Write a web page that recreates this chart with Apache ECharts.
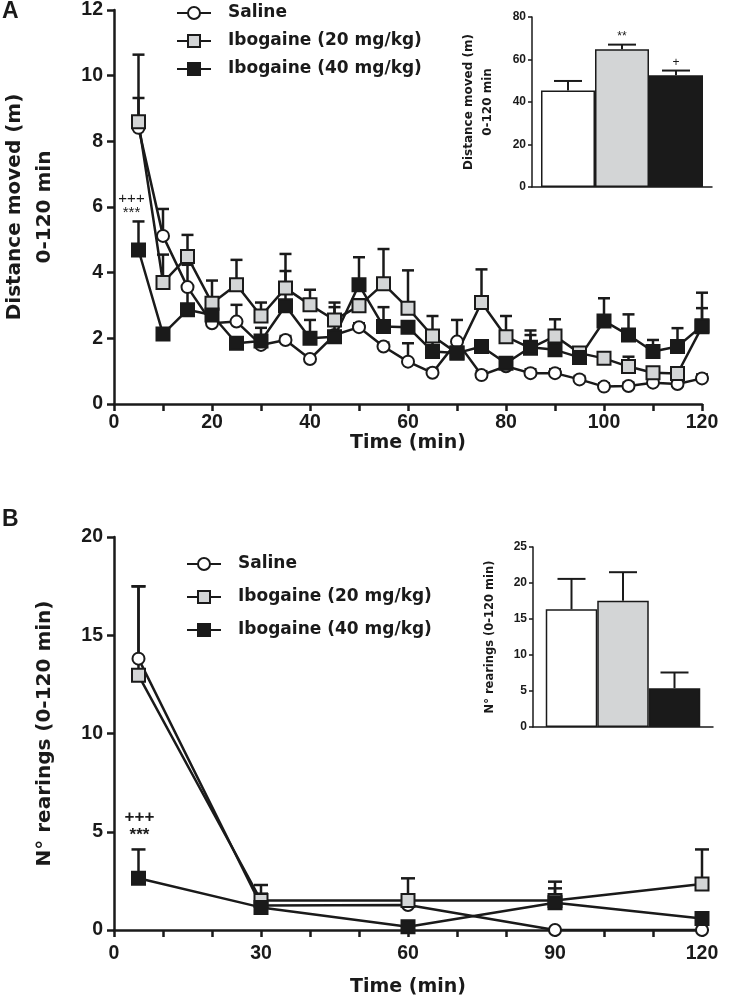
<!DOCTYPE html>
<html><head><meta charset="utf-8">
<script src="https://cdn.jsdelivr.net/npm/echarts@6/dist/echarts.min.js"></script>
<style>html,body{margin:0;padding:0;background:#fff}#c{width:729px;height:1002px}</style>
</head><body><div id="c"></div>
<script>
// ---------- DATA ----------
const seriesNames = ['Saline', 'Ibogaine (20 mg/kg)', 'Ibogaine (40 mg/kg)'];
// Panel A: distance moved per 5-min bin (m)
const timeA = [5,10,15,20,25,30,35,40,45,50,55,60,65,70,75,80,85,90,95,100,105,110,115,120];
const salineA = [8.41,5.12,3.56,2.46,2.51,1.80,1.95,1.37,2.10,2.34,1.75,1.29,0.95,1.90,0.88,1.15,0.94,0.94,0.75,0.53,0.55,0.65,0.61,0.78];
const salineASem = [0.91,0.82,0.68,0.12,0.51,0.12,0.12,0.12,0.12,0.12,0.12,0.56,0.12,0.66,0.12,0.12,0.12,0.12,0.10,0.10,0.10,0.10,0.10,0.12];
const ibo20A = [8.60,3.70,4.49,3.07,3.63,2.68,3.53,3.02,2.56,2.99,3.66,2.92,2.07,1.55,3.09,2.05,1.70,2.07,1.55,1.39,1.14,0.95,0.93,2.35];
const ibo20ASem = [2.04,0.85,0.66,0.69,0.76,0.41,1.04,0.46,0.53,0.20,1.06,1.15,0.61,0.15,1.01,0.63,0.40,0.51,0.15,0.12,0.30,0.12,0.12,1.04];
const ibo40A = [4.69,2.13,2.87,2.71,1.85,1.92,2.99,2.00,2.05,3.63,2.36,2.34,1.60,1.55,1.75,1.24,1.73,1.65,1.42,2.53,2.10,1.60,1.75,2.38];
const ibo40ASem = [0.87,0.12,0.69,0.40,0.12,0.40,1.06,0.56,0.90,0.84,0.59,0.12,0.35,0.15,0.15,0.15,0.51,0.20,0.15,0.69,0.63,0.35,0.56,0.54];
const sigA40 = ['+++\n***','','','','','','','','','','','','','','','','','','','','','','',''];
// Panel A inset: total distance 0-120 min (m)
const totalA = [45.4, 64.8, 52.6];
const totalASem = [4.5, 2.2, 2.2];
const totalASig = ['', '**', '+'];
// Panel B: rearings per 30-min bin
const timeB = [5, 30, 60, 90, 120];
const salineB = [13.81, 1.25, 1.27, 0.0, 0.0];
const salineBSem = [3.68, 0.6, 0.2, 0.0, 0.0];
const ibo20B = [12.96, 1.50, 1.50, 1.50, 2.34];
const ibo20BSem = [4.53, 0.79, 1.13, 0.96, 1.76];
const ibo40B = [2.63, 1.15, 0.17, 1.39, 0.59];
const ibo40BSem = [1.47, 0.15, 0.1, 0.73, 0.1];
const sigB40 = ['+++\n***','','','',''];
// Panel B inset: total rearings 0-120 min
const totalB = [16.35, 17.55, 5.39];
const totalBSem = [4.22, 3.95, 2.18];
const totalBSig = ['', '', ''];
// Axis ticks
const yTicksA = {min:0, max:12, interval:2};
const yTicksB = {min:0, max:20, interval:5};
const insetTicksA = {min:0, max:80, interval:20};
const insetTicksB = {min:0, max:25, interval:5};

// ---------- STYLE ----------
const INK = '#1a1a1a';
const GREY = '#d3d5d6';
const FONT = '"Liberation Sans", Arial, Helvetica, sans-serif';
const WIDE = '"DejaVu Sans", Verdana, sans-serif';
const fills = ['#ffffff', GREY, INK];
const symbols = ['circle', 'rect', 'rect'];

const chart = echarts.init(document.getElementById('c'), null, {renderer: 'canvas'});

function zip(xs, ys) { return xs.map((x, i) => [x, ys[i]]); }

function lineSeries(k, xi, xs, ys, size, z) {
  return {
    name: seriesNames[k], type: 'line', xAxisIndex: xi, yAxisIndex: xi,
    data: zip(xs, ys), symbol: symbols[k], symbolSize: k === 0 ? size - 1 : size,
    showSymbol: true, z: z, animation: false,
    lineStyle: {color: INK, width: 2.5},
    itemStyle: {color: fills[k], borderColor: INK, borderWidth: 2, opacity: 1},
    emphasis: {disabled: true}
  };
}

function errSeries(xi, xs, means, sems, labels, o) {
  const data = xs.map((x, i) => [x, means[i], means[i] + sems[i]]);
  return {
    type: 'custom', xAxisIndex: xi, yAxisIndex: xi, z: o.z || 2, silent: true, animation: false,
    renderItem: function (params, api) {
      const x = api.value(0), m = api.value(1), t = api.value(2);
      const p0 = api.coord([x, m]), p1 = api.coord([x, t]);
      const cx = p0[0] + (o.dx || 0);
      const ch = [
        {type: 'line', shape: {x1: cx, y1: p0[1], x2: cx, y2: p1[1]}, style: {stroke: INK, lineWidth: o.lw}},
        {type: 'line', shape: {x1: cx - o.cap / 2, y1: p1[1], x2: cx + o.cap / 2, y2: p1[1]}, style: {stroke: INK, lineWidth: o.lw}}
      ];
      const lab = labels ? labels[params.dataIndex] : '';
      if (lab) {
        ch.push({type: 'text', x: cx + (o.tdx || 0), y: p1[1] - (o.tgap || 3),
          style: {text: lab, font: o.font, fill: INK, align: 'center', verticalAlign: 'bottom', lineHeight: o.lh}});
      }
      return {type: 'group', children: ch};
    },
    data: data
  };
}

function barSeries(k, xi, vals, bw) {
  return {
    name: 'bar' + xi + '_' + k, type: 'bar', xAxisIndex: xi, yAxisIndex: xi,
    data: [vals[k]], barWidth: bw, barGap: '0%', z: 2, animation: false,
    itemStyle: {color: fills[k], borderColor: INK, borderWidth: 1.5},
    emphasis: {disabled: true}
  };
}

const tickLabel = (size) => ({color: INK, fontFamily: FONT, fontWeight: 'bold', fontSize: size});

function mainX(gi, every, labelMargin, nameGap) {
  return {
    gridIndex: gi, type: 'value', min: 0, max: 120, interval: 10,
    axisLine: {show: true, onZero: false, lineStyle: {color: INK, width: 2.5}},
    axisTick: {show: true, length: 7, lineStyle: {color: INK, width: 2.5}},
    axisLabel: Object.assign(tickLabel(19.5), {margin: labelMargin, formatter: v => (v % every === 0 ? String(v) : '')}),
    splitLine: {show: false},
    name: 'Time (min)', nameLocation: 'middle', nameGap: nameGap,
    nameTextStyle: {color: INK, fontFamily: WIDE, fontWeight: 'bold', fontSize: 19}
  };
}
function mainY(gi, t, name, nameGap, lh) {
  return {
    gridIndex: gi, type: 'value', min: t.min, max: t.max, interval: t.interval,
    axisLine: {show: true, onZero: false, lineStyle: {color: INK, width: 2.5}},
    axisTick: {show: true, length: 7, lineStyle: {color: INK, width: 2.5}},
    axisLabel: Object.assign(tickLabel(19.5), {margin: 11}),
    splitLine: {show: false},
    name: name, nameLocation: 'middle', nameGap: nameGap, nameRotate: 90,
    nameTextStyle: {color: INK, fontFamily: WIDE, fontWeight: 'bold', fontSize: 20, lineHeight: lh}
  };
}
function insetX(gi) {
  return {
    gridIndex: gi, type: 'category', data: ['0-120 min'],
    axisLine: {show: true, onZero: false, lineStyle: {color: INK, width: 1.5}},
    axisTick: {show: false}, axisLabel: {show: false}, splitLine: {show: false}
  };
}
function insetY(gi, t, name, nameGap, fs, lh) {
  return {
    gridIndex: gi, type: 'value', min: t.min, max: t.max, interval: t.interval,
    axisLine: {show: true, onZero: false, lineStyle: {color: INK, width: 1.5}},
    axisTick: {show: true, length: 4, lineStyle: {color: INK, width: 1.5}},
    axisLabel: Object.assign(tickLabel(12), {margin: 6}),
    splitLine: {show: false},
    name: name, nameLocation: 'middle', nameGap: nameGap, nameRotate: 90,
    nameTextStyle: {color: INK, fontFamily: WIDE, fontWeight: 'bold', fontSize: fs, lineHeight: lh}
  };
}

const series = [];
// Panel A main
series.push(errSeries(0, timeA, salineA, salineASem, null, {lw: 2.5, cap: 12, z: 2}));
series.push(errSeries(0, timeA, ibo20A, ibo20ASem, null, {lw: 2.5, cap: 12, z: 2}));
series.push(errSeries(0, timeA, ibo40A, ibo40ASem, sigA40, {lw: 2.5, cap: 12, z: 2, tdx: -7, tgap: 2, font: '15px ' + FONT, lh: 14}));
series.push(lineSeries(0, 0, timeA, salineA, 13, 3));
series.push(lineSeries(1, 0, timeA, ibo20A, 13, 3));
series.push(lineSeries(2, 0, timeA, ibo40A, 13, 3));
// Panel A inset
const bwA = 54;
[0, 1, 2].forEach(k => series.push(barSeries(k, 1, totalA, bwA)));
[0, 1, 2].forEach(k => series.push(errSeries(1, [0], [totalA[k]], [totalASem[k]], [totalASig[k]],
  {lw: 2, cap: 28, z: 1, dx: (k - 1) * bwA, tgap: 2, font: '12px ' + FONT, lh: 12})));
// Panel B main
series.push(errSeries(2, timeB, salineB, salineBSem, null, {lw: 2.5, cap: 14, z: 2}));
series.push(errSeries(2, timeB, ibo20B, ibo20BSem, null, {lw: 2.5, cap: 14, z: 2}));
series.push(errSeries(2, timeB, ibo40B, ibo40BSem, sigB40, {lw: 2.5, cap: 14, z: 2, tdx: 1, tgap: 5, font: 'bold 17px ' + FONT, lh: 18}));
series.push(lineSeries(0, 2, timeB, salineB, 13, 3));
series.push(lineSeries(1, 2, timeB, ibo20B, 13, 3));
series.push(lineSeries(2, 2, timeB, ibo40B, 13, 3));
// Panel B inset
const bwB = 51.5;
[0, 1, 2].forEach(k => series.push(barSeries(k, 3, totalB, bwB)));
[0, 1, 2].forEach(k => series.push(errSeries(3, [0], [totalB[k]], [totalBSem[k]], [totalBSig[k]],
  {lw: 2, cap: 28, z: 1, dx: (k - 1) * bwB, tgap: 2, font: '12px ' + FONT, lh: 12})));

const legendBase = {
  data: seriesNames, orient: 'vertical', itemWidth: 34, itemHeight: 15,
  selectedMode: false,
  textStyle: {color: INK, fontFamily: WIDE, fontWeight: 'bold', fontSize: 17, lineHeight: 20, padding: [0, 0, 0, 12]}
};

const gridBase = {containLabel: false, outerBoundsMode: 'none'};

chart.setOption({
  backgroundColor: '#ffffff',
  animation: false,
  textStyle: {fontFamily: FONT},
  grid: [
    Object.assign({left: 114, top: 10, width: 588, height: 394}, gridBase),
    Object.assign({left: 532, top: 17, width: 180, height: 170}, gridBase),
    Object.assign({left: 114, top: 537, width: 588, height: 393}, gridBase),
    Object.assign({left: 533, top: 547, width: 180, height: 180}, gridBase)
  ],
  xAxis: [mainX(0, 20, 9, 21), insetX(1), mainX(2, 30, 14, 48), insetX(3)],
  yAxis: [
    mainY(0, yTicksA, 'Distance moved (m)\n0-120 min', 54, 30),
    insetY(1, insetTicksA, 'Distance moved (m)\n0-120 min', 35, 12, 19),
    mainY(2, yTicksB, 'N° rearings (0-120 min)', 57, 24),
    insetY(3, insetTicksB, 'N° rearings (0-120 min)', 36, 11.5, 14)
  ],
  legend: [
    Object.assign({}, legendBase, {left: 171, top: -2, itemGap: 8}),
    Object.assign({}, legendBase, {left: 181, top: 549, itemGap: 13})
  ],
  graphic: [
    {type: 'text', left: 2, top: 0, style: {text: 'A', font: 'bold 23px ' + FONT, fill: INK}},
    {type: 'text', left: 2, top: 508, style: {text: 'B', font: 'bold 23px ' + FONT, fill: INK}}
  ],
  series: series
});
</script>
</body></html>
